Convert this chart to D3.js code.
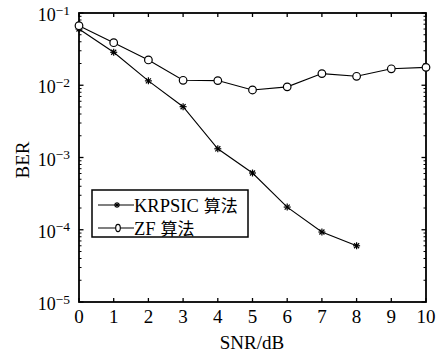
<!DOCTYPE html>
<html><head><meta charset="utf-8">
<script src="https://cdn.jsdelivr.net/npm/d3@7"></script>
<style>
html,body{margin:0;padding:0;background:#fff;}
svg{display:block;}
text{font-family:"Liberation Serif","Times New Roman",serif;fill:#000;}
.cjk{font-family:"Noto Sans CJK SC",sans-serif;}
</style></head>
<body><svg id="chart" width="442" height="353"></svg>
<script>
const snr = [0,1,2,3,4,5,6,7,8,9,10];
const krpsicSnr = [0,1,2,3,4,5,6,7,8];
const krpsicBer = [0.060,0.0286,0.0115,0.00505,0.00132,0.00061,0.000206,0.000093,0.000060];
const zfBer = [0.0667,0.0388,0.0224,0.0117,0.0116,0.0086,0.0095,0.0145,0.0133,0.0169,0.0177];
const xTicks = [0,1,2,3,4,5,6,7,8,9,10];
const yExponents = [-1,-2,-3,-4,-5];
const seriesNames = ["KRPSIC","ZF"];
const seriesSuffix = "算法";
const xTitle = "SNR/dB", yTitle = "BER";

const svg = d3.select("#chart");
const L=79,R=426,T=13,B=302;
const x = d3.scaleLinear().domain([0,10]).range([L,R]);
const y = d3.scaleLog().domain([1e-5,1e-1]).range([B,T]);

svg.append("rect").attr("width",442).attr("height",353).attr("fill","#fff");

const minors=[];
for(let e=-5;e<-1;e++) for(let m=2;m<=9;m++) minors.push(m*Math.pow(10,e));
const g = svg.append("g").attr("stroke","#000");
minors.forEach(v=>{
  g.append("line").attr("x1",L).attr("x2",L+2.5).attr("y1",y(v)).attr("y2",y(v)).attr("stroke-width",1);
  g.append("line").attr("x1",R).attr("x2",R-2.5).attr("y1",y(v)).attr("y2",y(v)).attr("stroke-width",1);
});
yExponents.forEach(e=>{
  const v=Math.pow(10,e);
  g.append("line").attr("x1",L).attr("x2",L+4.5).attr("y1",y(v)).attr("y2",y(v)).attr("stroke-width",1.3);
  g.append("line").attr("x1",R).attr("x2",R-4.5).attr("y1",y(v)).attr("y2",y(v)).attr("stroke-width",1.3);
});
xTicks.forEach(t=>{
  g.append("line").attr("x1",x(t)).attr("x2",x(t)).attr("y1",B).attr("y2",B-4).attr("stroke-width",1.3);
  g.append("line").attr("x1",x(t)).attr("x2",x(t)).attr("y1",T).attr("y2",T+4).attr("stroke-width",1.3);
});
svg.append("rect").attr("x",L).attr("y",T).attr("width",R-L).attr("height",B-T)
  .attr("fill","none").attr("stroke","#000").attr("stroke-width",1.8);

svg.append("g").selectAll("text").data(xTicks).join("text")
  .attr("x",d=>x(d)).attr("y",323).attr("text-anchor","middle")
  .attr("font-size",19).text(d=>d);
yExponents.forEach(e=>{
  const t = svg.append("text").attr("x",70).attr("y",y(Math.pow(10,e))+8)
    .attr("text-anchor","end").attr("font-size",18);
  t.append("tspan").text("10");
  t.append("tspan").attr("dy",-6.5).attr("font-size",13.5).text("\u2212"+Math.abs(e));
});
svg.append("text").attr("x",252).attr("y",349).attr("text-anchor","middle").attr("font-size",19).text(xTitle);
svg.append("text").attr("transform","translate(29,160) rotate(-90)").attr("text-anchor","middle").attr("font-size",19).text(yTitle);

const line = d3.line().x(d=>x(d[0])).y(d=>y(d[1]));
const kData = krpsicSnr.map((s,i)=>[s,krpsicBer[i]]);
const zData = snr.map((s,i)=>[s,zfBer[i]]);
svg.append("path").datum(kData).attr("d",line).attr("fill","none").attr("stroke","#000").attr("stroke-width",1.1);
svg.append("path").datum(zData).attr("d",line).attr("fill","none").attr("stroke","#000").attr("stroke-width",1.1);

function star(sel,cx,cy,r){
  const gg=sel.append("g").attr("stroke","#000").attr("stroke-width",1.2);
  gg.append("line").attr("x1",cx-r).attr("x2",cx+r).attr("y1",cy).attr("y2",cy);
  gg.append("line").attr("x1",cx).attr("x2",cx).attr("y1",cy-r).attr("y2",cy+r);
  const d=r*0.72;
  gg.append("line").attr("x1",cx-d).attr("x2",cx+d).attr("y1",cy-d).attr("y2",cy+d);
  gg.append("line").attr("x1",cx-d).attr("x2",cx+d).attr("y1",cy+d).attr("y2",cy-d);
}
kData.forEach(d=>star(svg,x(d[0]),y(d[1]),3.5));
svg.append("g").selectAll("circle").data(zData).join("circle")
  .attr("cx",d=>x(d[0])).attr("cy",d=>y(d[1])).attr("r",3.8)
  .attr("fill","#fff").attr("stroke","#000").attr("stroke-width",1.2);

const lg = svg.append("g");
lg.append("rect").attr("x",92).attr("y",190).attr("width",156).attr("height",47)
  .attr("fill","#fff").attr("stroke","#000").attr("stroke-width",1.5);
const rows=[205,228];
rows.forEach((ry,i)=>{
  lg.append("line").attr("x1",98).attr("x2",134).attr("y1",ry).attr("y2",ry).attr("stroke","#000").attr("stroke-width",1.1);
  if(i===0) star(lg,117,ry,3);
  else lg.append("ellipse").attr("cx",118).attr("cy",ry).attr("rx",2.3).attr("ry",3.6).attr("fill","#fff").attr("stroke","#000").attr("stroke-width",1.1);
  const t = lg.append("text").attr("x",134).attr("y",ry+7).attr("font-size",18.5);
  t.append("tspan").text(seriesNames[i]);
  t.append("tspan").attr("class","cjk").attr("dx",5).attr("font-size",17).text(seriesSuffix);
});
</script></body></html>
